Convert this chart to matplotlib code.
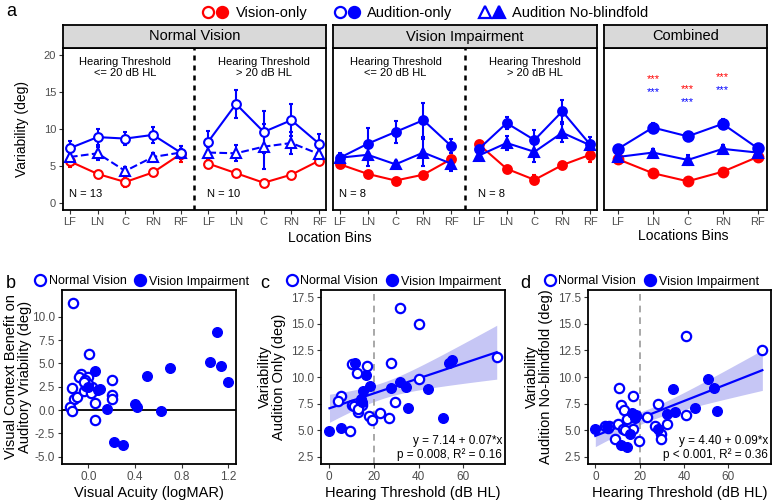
import numpy as np
import matplotlib
matplotlib.use('Agg')
import matplotlib.pyplot as plt
from matplotlib.lines import Line2D
from matplotlib.legend_handler import HandlerTuple

plt.rcParams['font.family'] = ['Liberation Sans', 'DejaVu Sans']

RED = '#ff0000'
BLUE = '#0000ff'
TICKC = '#4d4d4d'

# ---- panel a data (mean, error) ----
bins = ['LF', 'LN', 'C', 'RN', 'RF']

nv_lo_aud = [7.4, 8.9, 8.7, 9.2, 6.8]
nv_lo_aud_err = [1.0, 1.1, 0.9, 1.1, 0.9]
nv_lo_nob = [6.2, 6.7, 4.3, 6.2, 6.8]
nv_lo_nob_err = [0.5, 0.9, 0.6, 0.6, 0.5]
nv_lo_vis = [5.6, 3.9, 2.8, 4.1, 6.6]
nv_lo_vis_err = [0.7, 0.4, 0.7, 0.4, 1.1]

nv_hi_aud = [8.3, 13.4, 9.6, 11.2, 8.0]
nv_hi_aud_err = [1.4, 1.9, 2.8, 2.2, 1.3]
nv_hi_nob = [6.8, 6.7, 7.6, 8.1, 6.6]
nv_hi_nob_err = [0.8, 1.1, 3.1, 1.5, 0.7]
nv_hi_vis = [5.3, 4.0, 2.7, 3.8, 5.7]
nv_hi_vis_err = [0.5, 0.4, 0.4, 0.4, 0.5]

vi_lo_aud = [6.1, 8.0, 9.6, 11.2, 7.7]
vi_lo_aud_err = [0.6, 2.2, 1.5, 2.3, 1.0]
vi_lo_nob = [6.1, 6.5, 5.2, 6.8, 5.3]
vi_lo_nob_err = [0.5, 1.5, 0.5, 1.8, 1.0]
vi_lo_vis = [5.2, 3.9, 3.0, 3.8, 5.9]
vi_lo_vis_err = [0.4, 0.3, 0.3, 0.3, 0.5]

vi_hi_aud = [7.3, 10.8, 8.5, 12.4, 7.9]
vi_hi_aud_err = [0.6, 0.8, 1.3, 1.5, 1.0]
vi_hi_nob = [6.4, 8.1, 6.9, 9.5, 7.8]
vi_hi_nob_err = [0.5, 1.0, 1.4, 1.2, 0.5]
vi_hi_vis = [7.9, 4.6, 3.1, 5.1, 6.5]
vi_hi_vis_err = [0.5, 0.3, 0.6, 0.4, 1.0]

comb_aud = [7.3, 10.2, 9.0, 10.7, 7.4]
comb_aud_err = [0.5, 0.6, 0.6, 0.6, 0.5]
comb_nob = [6.2, 6.8, 5.8, 7.3, 6.8]
comb_nob_err = [0.4, 0.5, 0.7, 0.5, 0.4]
comb_vis = [5.9, 4.0, 2.9, 4.2, 6.2]
comb_vis_err = [0.3, 0.3, 0.3, 0.3, 0.3]

# significance stars (Combined): bin index, red y, blue y
star_bins = [1, 2, 3]
star_red_y = [16.8, 15.4, 17.1]
star_blue_y = [15.0, 13.6, 15.3]

# ---- panel b data ----
b_nv_x = [-0.13, 0.01, -0.06, -0.08, -0.14, -0.12, -0.10, -0.16, -0.14, -0.04, -0.02, 0.00,
          0.06, 0.06, 0.06, 0.20, 0.20, 0.20, -0.03, 0.03, 0.00, -0.04, 0.02]
b_nv_y = [11.5, 6.0, 3.9, 3.5, 2.4, 1.2, 1.4, 0.3, -0.1, 2.0, 2.6, 3.5,
          2.2, 0.8, -1.1, 3.2, 1.6, 1.2, 3.2, 2.5, 2.8, 3.0, 1.8]
b_vi_x = [0.06, 0.10, 0.08, 0.00, 0.16, 0.22, 0.30, 0.40, 0.42, 0.50, 0.62, 0.70, 1.04, 1.10, 1.14, 1.20]
b_vi_y = [4.2, 2.3, 2.1, 2.5, 0.1, -3.4, -3.7, 0.6, 0.3, 3.6, -0.1, 4.5, 5.2, 8.4, 4.7, 3.0]

# ---- panel c data ----
c_nv_x = [31.7, 40.3, 74.9, 10.1, 16.7, 27.7, 12.6, 40.3, 5.4, 3.7, 10.1, 12.2, 14.6, 12.8,
          17.9, 19.0, 22.8, 26.8, 29.5, 9.4, 11.0, 14.0, 13.0]
c_nv_y = [16.5, 15.0, 11.9, 11.2, 11.0, 11.3, 10.4, 9.85, 8.25, 7.7, 7.4, 7.15, 7.4, 6.7,
          6.35, 5.95, 6.6, 6.1, 7.6, 4.95, 7.3, 7.6, 7.0]
c_vi_x = [0.1, 5.4, 11.6, 16.5, 18.0, 15.3, 14.3, 27.7, 31.8, 34.4, 35.4, 44.3, 50.7, 53.6, 54.8, 14.6]
c_vi_y = [4.95, 5.2, 11.35, 10.2, 9.15, 8.7, 7.9, 9.0, 9.5, 9.05, 7.1, 8.85, 6.1, 11.35, 11.6, 7.6]

# ---- panel d data ----
d_nv_x = [40.9, 75.3, 10.5, 16.8, 11.7, 12.9, 28.2, 40.9, 23.2, 10.0, 4.2, 5.7, 14.2, 27.0,
          32.2, 17.2, 12.7, 9.0, 19.5, 29.7, 29.6, 6.0, 13.5]
d_nv_y = [13.9, 12.55, 9.0, 8.2, 7.4, 6.85, 7.5, 6.4, 6.2, 5.6, 5.4, 5.2, 6.0, 5.4,
          5.55, 5.1, 5.1, 4.15, 4.0, 4.6, 4.2, 5.4, 5.0]
d_vi_x = [0.0, 5.2, 11.7, 14.2, 15.7, 16.5, 18.3, 18.0, 34.8, 32.2, 36.0, 45.0, 51.0, 53.7, 54.7, 28.2]
d_vi_y = [5.1, 5.35, 3.6, 3.4, 4.6, 6.65, 6.45, 6.1, 8.85, 6.5, 6.75, 7.1, 9.8, 9.0, 6.8, 5.1]

fig = plt.figure(figsize=(7.8, 5.0), dpi=100)
W, H = 780.0, 500.0


def px_axes(l, t, r, b):
    return fig.add_axes([l / W, 1 - b / H, (r - l) / W, (b - t) / H])


def style(ax, lab=8):
    for s in ax.spines.values():
        s.set_linewidth(1.3)
        s.set_color('black')
    ax.tick_params(direction='out', length=3, width=0.8, color='#333333',
                   labelsize=lab, labelcolor=TICKC, pad=2)


def series(ax, xs, ys, err, color, marker, filled, ls='-', ms=6.3):
    ax.errorbar(xs, ys, yerr=err, color=color, marker=marker, ms=ms,
                mfc=color if filled else 'white', mec=color, mew=1.5,
                ls=ls, lw=1.5, elinewidth=1.5, capsize=1.5, capthick=1.2)


def strip(l, r, label):
    sa = px_axes(l, 25, r, 48)
    sa.set_facecolor('#d9d9d9')
    sa.set_xticks([])
    sa.set_yticks([])
    for s in sa.spines.values():
        s.set_linewidth(1.3)
    sa.text(0.5, 0.5, label, ha='center', va='center', fontsize=10.5, transform=sa.transAxes)


def facet(ax, lo, hi, filled, nob_ls, ns):
    x1 = np.arange(1, 6)
    x2 = np.arange(6, 11)
    for xs, grp in ((x1, lo), (x2, hi)):
        vis, vis_e, nob, nob_e, aud, aud_e = grp
        series(ax, xs, vis, vis_e, RED, 'o', filled)
        series(ax, xs, nob, nob_e, BLUE, '^', filled, ls=nob_ls, ms=7.5)
        series(ax, xs, aud, aud_e, BLUE, 'o', filled)
    ax.axvline(5.5, color='black', ls=(0, (2, 2)), lw=1.8)
    ax.set_xlim(0.75, 10.25)
    ax.set_ylim(-1, 21)
    ax.set_xticks(np.arange(1, 11))
    ax.set_xticklabels(bins + bins)
    ax.text(3, 19.8, 'Hearing Threshold\n<= 20 dB HL', ha='center', va='top', fontsize=8, linespacing=1.15)
    ax.text(8, 19.8, 'Hearing Threshold\n> 20 dB HL', ha='center', va='top', fontsize=8, linespacing=1.15)
    ax.text(0.95, 0.5, 'N = %d' % ns[0], fontsize=8, va='bottom')
    ax.text(5.95, 0.5, 'N = %d' % ns[1], fontsize=8, va='bottom')
    style(ax)


# ---- panel a ----
ax_nv = px_axes(63, 48, 326, 210)
facet(ax_nv,
      (nv_lo_vis, nv_lo_vis_err, nv_lo_nob, nv_lo_nob_err, nv_lo_aud, nv_lo_aud_err),
      (nv_hi_vis, nv_hi_vis_err, nv_hi_nob, nv_hi_nob_err, nv_hi_aud, nv_hi_aud_err),
      False, '--', (13, 10))
ax_nv.set_yticks([0, 5, 10, 15, 20])
ax_nv.text(-0.155, 0.5, 'Variability (deg)', rotation=90, ha='center', va='center',
           fontsize=10, transform=ax_nv.transAxes)
strip(63, 326, 'Normal Vision')

ax_vi = px_axes(333, 48, 597, 210)
facet(ax_vi,
      (vi_lo_vis, vi_lo_vis_err, vi_lo_nob, vi_lo_nob_err, vi_lo_aud, vi_lo_aud_err),
      (vi_hi_vis, vi_hi_vis_err, vi_hi_nob, vi_hi_nob_err, vi_hi_aud, vi_hi_aud_err),
      True, '-', (8, 8))
ax_vi.set_yticks([])
strip(333, 597, 'Vision Impairment')

ax_cb = px_axes(604, 48, 767, 210)
xc = np.arange(1, 6)
series(ax_cb, xc, comb_vis, comb_vis_err, RED, 'o', True, ms=7)
series(ax_cb, xc, comb_nob, comb_nob_err, BLUE, '^', True, ms=7)
series(ax_cb, xc, comb_aud, comb_aud_err, BLUE, 'o', True, ms=7.5)
for i, yr, yb in zip(star_bins, star_red_y, star_blue_y):
    ax_cb.text(xc[i], yr, '***', color=RED, ha='center', va='center', fontsize=8)
    ax_cb.text(xc[i], yb, '***', color=BLUE, ha='center', va='center', fontsize=8)
ax_cb.set_xlim(0.6, 5.27)
ax_cb.set_ylim(-1, 21)
ax_cb.set_xticks(xc)
ax_cb.set_xticklabels(bins)
ax_cb.set_yticks([])
style(ax_cb)
strip(604, 767, 'Combined')

fig.text(330 / W, 1 - 238 / H, 'Location Bins', ha='center', va='center', fontsize=10)
fig.text(683 / W, 1 - 236 / H, 'Locations Bins', ha='center', va='center', fontsize=10)

# top legend
def mk(marker, color, filled):
    return Line2D([], [], ls='none', marker=marker, ms=8, mew=1.6, mec=color,
                  mfc=color if filled else 'white')

handles = [(mk('o', RED, False), mk('o', RED, True)),
           (mk('o', BLUE, False), mk('o', BLUE, True)),
           (mk('^', BLUE, False), mk('^', BLUE, True))]
fig.legend(handles, ['Vision-only', 'Audition-only', 'Audition No-blindfold'],
           handler_map={tuple: HandlerTuple(ndivide=None, pad=0.1)},
           loc='center', bbox_to_anchor=(0.545, 1 - 13 / H), ncol=3, frameon=False,
           fontsize=10.5, handlelength=1.8, handletextpad=0.5, columnspacing=1.8,
           borderaxespad=0, borderpad=0)

fig.text(6 / W, 1 - 12 / H, 'a', fontsize=13, va='center')
fig.text(6 / W, 1 - 283 / H, 'b', fontsize=13, va='center')
fig.text(260 / W, 1 - 283 / H, 'c', fontsize=13, va='center')
fig.text(520 / W, 1 - 283 / H, 'd', fontsize=13, va='center')


def group_legend(ax, x0):
    h = [Line2D([], [], ls='none', marker='o', ms=8, mew=1.6, mec=BLUE, mfc='white'),
         Line2D([], [], ls='none', marker='o', ms=8, mew=1.6, mec=BLUE, mfc=BLUE)]
    ax.legend(h, ['Normal Vision', 'Vision Impairment'], loc='lower left',
              bbox_to_anchor=(x0, 1.0), ncol=2, frameon=False, fontsize=9,
              handlelength=0.8, handletextpad=0.3, columnspacing=0.7,
              borderaxespad=0.1, borderpad=0.1)


def lm_band(x, y, t=2.026):
    x = np.asarray(x)
    y = np.asarray(y)
    b1, b0 = np.polyfit(x, y, 1)
    xs = np.linspace(x.min(), x.max(), 100)
    yh = b0 + b1 * xs
    res = y - (b0 + b1 * x)
    s = np.sqrt(np.sum(res ** 2) / (len(x) - 2))
    se = s * np.sqrt(1 / len(x) + (xs - x.mean()) ** 2 / np.sum((x - x.mean()) ** 2))
    return xs, yh, yh - t * se, yh + t * se


# ---- panel b ----
ax_b = px_axes(62, 290, 236, 464)
ax_b.axhline(0, color='black', lw=1.3)
ax_b.scatter(b_nv_x, b_nv_y, s=45, facecolors='white', edgecolors=BLUE, linewidths=1.6, zorder=3)
ax_b.scatter(b_vi_x, b_vi_y, s=48, color=BLUE, zorder=3)
ax_b.set_xlim(-0.225, 1.266)
ax_b.set_ylim(-5.78, 12.86)
ax_b.set_xticks([0.0, 0.4, 0.8, 1.2])
ax_b.set_xticklabels(['0.0', '0.4', '0.8', '1.2'])
ax_b.set_yticks([-5, -2.5, 0, 2.5, 5, 7.5, 10])
ax_b.set_yticklabels(['-5.0', '-2.5', '0.0', '2.5', '5.0', '7.5', '10.0'])
ax_b.set_xlabel('Visual Acuity (logMAR)', fontsize=10.5, labelpad=2)
ax_b.text(-0.255, 0.5, 'Visual Context Benefit on\nAuditory Vriability (deg)', rotation=90,
          ha='center', va='center', fontsize=10.5, linespacing=1.0, transform=ax_b.transAxes)
style(ax_b, 8.5)
group_legend(ax_b, -0.17)


def reg_panel(ax, nvx, nvy, vix, viy, xlim, ylabel, eq, ylab_x, leg_x):
    allx = list(nvx) + list(vix)
    ally = list(nvy) + list(viy)
    xs, yh, lo, hi = lm_band(allx, ally)
    ax.fill_between(xs, lo, hi, color='#c6c6f5', lw=0, zorder=1)
    ax.plot(xs, yh, color=BLUE, lw=1.6, zorder=2)
    ax.axvline(20, color='#999999', ls=(0, (4, 3)), lw=1.2, zorder=1)
    ax.scatter(nvx, nvy, s=45, facecolors='white', edgecolors=BLUE, linewidths=1.6, zorder=3)
    ax.scatter(vix, viy, s=48, color=BLUE, zorder=3)
    ax.set_xlim(*xlim)
    ax.set_ylim(1.81, 18.19)
    ax.set_xticks([0, 20, 40, 60])
    ax.set_yticks([2.5, 5, 7.5, 10, 12.5, 15, 17.5])
    ax.set_yticklabels(['2.5', '5.0', '7.5', '10.0', '12.5', '15.0', '17.5'])
    ax.set_xlabel('Hearing Threshold (dB HL)', fontsize=10.5, labelpad=2)
    ax.text(ylab_x, 0.5, ylabel, rotation=90, ha='center', va='center', fontsize=10.5,
            linespacing=1.0, transform=ax.transAxes)
    ax.text(0.985, 0.015, eq, ha='right', va='bottom', fontsize=8.5, linespacing=1.2,
            transform=ax.transAxes, zorder=4)
    style(ax, 8.5)
    group_legend(ax, leg_x)


ax_c = px_axes(321, 290, 505, 464)
reg_panel(ax_c, c_nv_x, c_nv_y, c_vi_x, c_vi_y, (-3.7, 78.6),
          'Variability\nAudition Only (deg)', 'y = 7.14 + 0.07*x\np = 0.008, R\u00b2 = 0.16',
          -0.265, -0.2)

ax_d = px_axes(588, 290, 771, 464)
reg_panel(ax_d, d_nv_x, d_nv_y, d_vi_x, d_vi_y, (-3.3, 79.2),
          'Variability\nAudition No-blindfold (deg)', 'y = 4.40 + 0.09*x\np < 0.001, R\u00b2 = 0.36',
          -0.27, -0.25)

fig.savefig('out.png', dpi=100)
